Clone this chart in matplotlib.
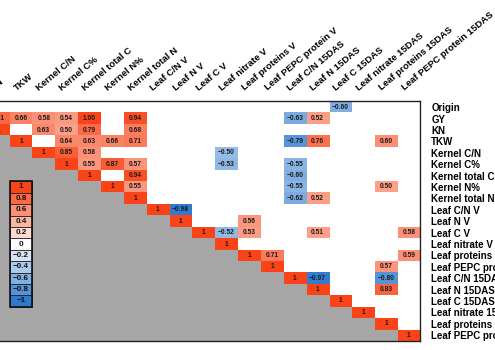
import numpy as np
import matplotlib.pyplot as plt
from matplotlib.colors import LinearSegmentedColormap, ListedColormap
from matplotlib.patches import Rectangle
import matplotlib.transforms as mtransforms

plt.rcParams['font.family'] = ['Liberation Sans', 'DejaVu Sans']
plt.rcParams['font.weight'] = 'bold'

traits = ["Origin", "GY", "KN", "TKW", "Kernel C/N", "Kernel C%", "Kernel total C",
          "Kernel N%", "Kernel total N", "Leaf C/N V", "Leaf N V", "Leaf C V",
          "Leaf nitrate V", "Leaf proteins V", "Leaf PEPC protein V", "Leaf C/N 15DAS",
          "Leaf N 15DAS", "Leaf C 15DAS", "Leaf nitrate 15DAS", "Leaf proteins 15DAS",
          "Leaf PEPC protein 15DAS"]

# significant correlations (upper triangle): row index, column index, r
pair_row = [0, 1, 1, 1, 1, 1, 1, 1, 1, 2, 2, 2, 2, 3, 3, 3, 3, 3, 3, 3,
            4, 4, 4, 5, 5, 5, 5, 5, 6, 6, 7, 7, 7, 8, 8, 9, 10,
            11, 11, 11, 11, 13, 13, 14, 15, 15, 16]
pair_col = [17, 2, 3, 4, 5, 6, 8, 15, 16, 4, 5, 6, 8, 5, 6, 7, 8, 15, 16, 19,
            5, 6, 12, 6, 7, 8, 12, 15, 8, 15, 8, 15, 19, 15, 16, 10, 13,
            12, 13, 16, 20, 14, 20, 19, 16, 19, 19]
pair_r = [-0.60, 0.81, 0.66, 0.58, 0.54, 1.00, 0.94, -0.63, 0.52, 0.63, 0.50, 0.79, 0.68,
          0.64, 0.63, 0.66, 0.71, -0.79, 0.76, 0.60,
          0.85, 0.58, -0.50, 0.55, 0.87, 0.57, -0.53, -0.55, 0.94, -0.60, 0.55, -0.55, 0.50,
          -0.62, 0.52, -0.98, 0.56,
          -0.52, 0.53, 0.51, 0.58, 0.71, 0.59, 0.57, -0.97, -0.80, 0.83]

legend_vals = [1, 0.8, 0.6, 0.4, 0.2, 0, -0.2, -0.4, -0.6, -0.8, -1]
legend_labels = ["1", "0.8", "0.6", "0.4", "0.2", "0",
                 "\u22120.2", "\u22120.4", "\u22120.6", "\u22120.8", "\u22121"]

n = len(traits)
corr = np.full((n, n), np.nan)
for i in range(n):
    corr[i, i] = 1.0
for i, j, r in zip(pair_row, pair_col, pair_r):
    corr[i, j] = r

lower = np.where(np.tril(np.ones((n, n)), -1) > 0, 1.0, np.nan)

cmap = LinearSegmentedColormap.from_list("rb", ["#2c79cf", "#ffffff", "#fa4418"])

fig = plt.figure(figsize=(4.95, 3.5), dpi=100)
ax = fig.add_axes([-0.119, 0.026, 0.968, 0.684])
ax.set_facecolor("white")
ax.imshow(lower, cmap=ListedColormap(["#a6a6a6"]), aspect="auto", interpolation="nearest")
ax.imshow(corr, cmap=cmap, vmin=-1, vmax=1, aspect="auto", interpolation="nearest")

for i in range(n):
    for j in range(n):
        v = corr[i, j]
        if np.isnan(v):
            continue
        if i == j:
            s = "1"
        else:
            s = f"{v:.2f}".replace("-", "\u2212")
        ax.text(j, i, s, ha="center", va="center", fontsize=4.8, color="#1a1a1a")

# colour key drawn inside the grey triangle
kx = 3
for k, (v, lab) in enumerate(zip(legend_vals, legend_labels)):
    y = 7 + k
    ax.add_patch(Rectangle((kx - 0.5, y - 0.5), 1, 1, facecolor=cmap((v + 1) / 2),
                           edgecolor="#222222", linewidth=0.6))
    ax.text(kx, y, lab, ha="center", va="center", fontsize=5.8, color="#111111")
ax.add_patch(Rectangle((kx - 0.5, 6.5), 1, len(legend_vals), fill=False,
                       edgecolor="#111111", linewidth=1.2))

ax.set_xlim(-0.5, n - 0.5)
ax.set_ylim(n - 0.5, -0.5)
ax.xaxis.tick_top()
ax.yaxis.tick_right()
ax.set_xticks(range(n))
ax.set_yticks(range(n))
ax.set_xticklabels(traits, rotation=40, ha="left", va="center",
                   rotation_mode="anchor", fontsize=6.8)
ax.set_yticklabels(traits, fontsize=7)
ax.tick_params(length=0)
ax.tick_params(axis="x", pad=9)
ax.tick_params(axis="y", pad=8)
shift = mtransforms.ScaledTranslation(-6 / 100, 0, fig.dpi_scale_trans)
for lab in ax.get_xticklabels():
    lab.set_transform(lab.get_transform() + shift)
for sp in ax.spines.values():
    sp.set_linewidth(1.0)
    sp.set_color("#222222")

fig.savefig("out.png", dpi=100)
